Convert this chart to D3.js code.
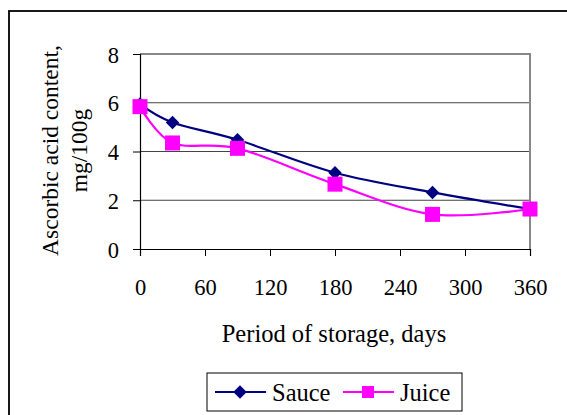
<!DOCTYPE html>
<html>
<head>
<meta charset="utf-8">
<script src="https://cdn.jsdelivr.net/npm/d3@7"></script>
<style>
  body { margin: 0; background: #fff; }
  text { font-family: "Liberation Serif", "Times New Roman", serif; fill: #000; }
</style>
</head>
<body>
<div id="chart"></div>
<script>
// storage period, days
var days = [0, 30, 90, 180, 270, 360];
// ascorbic acid content, mg/100g
var sauce = [5.95, 5.19, 4.48, 3.13, 2.32, 1.64];
var juice = [5.84, 4.35, 4.13, 2.66, 1.42, 1.64];
var xTicks = [0, 60, 120, 180, 240, 300, 360];
var yTicks = [0, 2, 4, 6, 8];
var seriesNames = ['Sauce', 'Juice'];

var width = 567, height = 415;
var margin = { top: 54, right: 37, bottom: 166, left: 140 };

var svg = d3.select('#chart').append('svg')
    .attr('width', width)
    .attr('height', height);

// outer chart frame (cut off at right/bottom like the reference)
svg.append('rect')
    .attr('x', 9).attr('y', 11)
    .attr('width', 600).attr('height', 450)
    .attr('fill', 'none')
    .attr('stroke', '#000')
    .attr('stroke-width', 1.8);

var x = d3.scaleLinear().domain([0, 360]).range([margin.left, width - margin.right]);
var y = d3.scaleLinear().domain([0, 8]).range([height - margin.bottom, margin.top]);

// gridlines
svg.append('g')
    .selectAll('line')
    .data(yTicks.slice(1, -1))
    .enter().append('line')
    .attr('x1', x(0)).attr('x2', x(360))
    .attr('y1', function (d) { return y(d); })
    .attr('y2', function (d) { return y(d); })
    .attr('stroke', '#444')
    .attr('stroke-width', 1);

// plot area border (top + right, gray)
svg.append('path')
    .attr('d', 'M' + x(0) + ',' + y(8) + 'H' + x(360) + 'V' + y(0))
    .attr('fill', 'none')
    .attr('stroke', '#888')
    .attr('stroke-width', 2);

var yAxis = svg.append('g')
    .attr('transform', 'translate(' + x(0) + ',0)')
    .call(d3.axisLeft(y).tickValues(yTicks).tickSize(7).tickPadding(14).tickFormat(d3.format('d')));

var xAxis = svg.append('g')
    .attr('transform', 'translate(0,' + y(0) + ')')
    .call(d3.axisBottom(x).tickValues(xTicks).tickSize(7).tickPadding(23).tickFormat(d3.format('d')));

[yAxis, xAxis].forEach(function (ax) {
    ax.select('.domain').attr('stroke', '#000').attr('stroke-width', 1.2);
    ax.selectAll('.tick line').attr('stroke', '#000');
    ax.selectAll('text')
        .style('font-family', '"Liberation Serif", serif')
        .style('font-size', '22.5px')
        .attr('fill', '#000');
});
yAxis.selectAll('text').attr('dy', '0.36em');

// axis titles
svg.append('text')
    .attr('x', 334)
    .attr('y', 342)
    .attr('text-anchor', 'middle')
    .style('font-size', '24.5px')
    .text('Period of storage, days');

var yTitle = svg.append('text')
    .attr('transform', 'translate(58,' + (y(4) - 1) + ') rotate(-90)')
    .attr('text-anchor', 'middle')
    .style('font-size', '23.5px');
yTitle.append('tspan').attr('x', 0).attr('dy', 0).text('Ascorbic acid content,');
yTitle.append('tspan').attr('x', 0).attr('dy', 29).text('mg/100g');

var line = d3.line()
    .x(function (d) { return x(d[0]); })
    .y(function (d) { return y(d[1]); })
    .curve(d3.curveCatmullRom.alpha(0));

var sauceData = days.map(function (d, i) { return [d, sauce[i]]; });
var juiceData = days.map(function (d, i) { return [d, juice[i]]; });

svg.append('path')
    .datum(sauceData)
    .attr('d', line)
    .attr('fill', 'none')
    .attr('stroke', '#000080')
    .attr('stroke-width', 2.2);

svg.append('path')
    .datum(juiceData)
    .attr('d', line)
    .attr('fill', 'none')
    .attr('stroke', '#ff00ff')
    .attr('stroke-width', 2.2);

var diamond = d3.symbol().type(d3.symbolDiamond2).size(115);

svg.append('g').selectAll('path')
    .data(sauceData)
    .enter().append('path')
    .attr('d', diamond)
    .attr('transform', function (d) { return 'translate(' + x(d[0]) + ',' + y(d[1]) + ')'; })
    .attr('fill', '#000080');

svg.append('g').selectAll('rect')
    .data(juiceData)
    .enter().append('rect')
    .attr('x', function (d) { return x(d[0]) - 7.5; })
    .attr('y', function (d) { return y(d[1]) - 7.5; })
    .attr('width', 15).attr('height', 15)
    .attr('fill', '#ff00ff');

// legend
var legend = svg.append('g').attr('transform', 'translate(207,373)');
legend.append('rect')
    .attr('width', 255).attr('height', 38)
    .attr('fill', '#fff')
    .attr('stroke', '#000')
    .attr('stroke-width', 1);

var leg = legend.selectAll('g.item')
    .data(seriesNames)
    .enter().append('g')
    .attr('class', 'item')
    .attr('transform', function (d, i) { return 'translate(' + (8 + i * 128) + ',19)'; });

leg.append('line')
    .attr('x1', 0).attr('x2', 51)
    .attr('stroke', function (d, i) { return i === 0 ? '#000080' : '#ff00ff'; })
    .attr('stroke-width', 2.2);

leg.each(function (d, i) {
    var g = d3.select(this);
    if (i === 0) {
        g.append('path').attr('d', diamond).attr('transform', 'translate(25,0)').attr('fill', '#000080');
    } else {
        g.append('rect').attr('x', 19).attr('y', -6).attr('width', 12).attr('height', 12).attr('fill', '#ff00ff');
    }
});

leg.append('text')
    .attr('x', 57)
    .attr('y', 9)
    .style('font-size', '24.5px')
    .text(function (d) { return d; });
</script>
</body>
</html>
